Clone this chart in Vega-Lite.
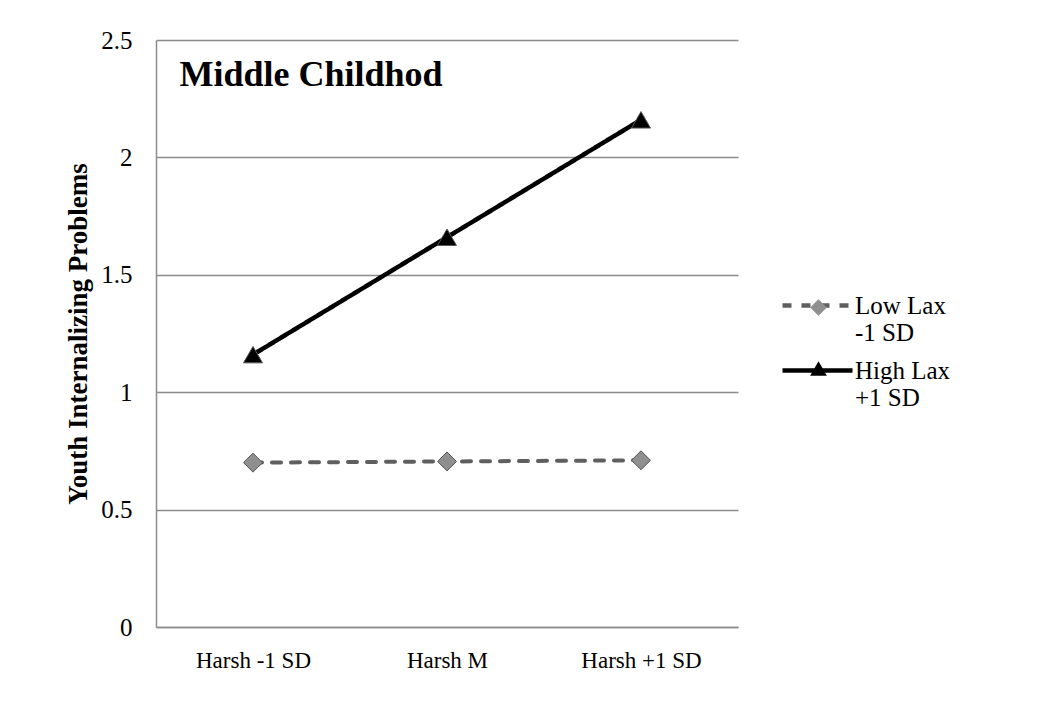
{
  "$schema": "https://vega.github.io/schema/vega-lite/v6.json",
  "autosize": {"type": "none"},
  "width": 582,
  "height": 587,
  "padding": {"left": 156, "top": 40, "right": 312, "bottom": 87},
  "background": "white",
  "config": {
    "view": {"stroke": null},
    "font": "Liberation Serif"
  },
  "data": {
    "values": [
      {"harsh": "Harsh -1 SD", "series": "Low Lax -1 SD", "value": 0.70},
      {"harsh": "Harsh M", "series": "Low Lax -1 SD", "value": 0.705},
      {"harsh": "Harsh +1 SD", "series": "Low Lax -1 SD", "value": 0.71},
      {"harsh": "Harsh -1 SD", "series": "High Lax +1 SD", "value": 1.16},
      {"harsh": "Harsh M", "series": "High Lax +1 SD", "value": 1.66},
      {"harsh": "Harsh +1 SD", "series": "High Lax +1 SD", "value": 2.16}
    ]
  },
  "encoding": {
    "x": {
      "field": "harsh",
      "type": "nominal",
      "sort": ["Harsh -1 SD", "Harsh M", "Harsh +1 SD"],
      "scale": {"type": "point", "padding": 0.5},
      "axis": {
        "title": "Middle Childhod",
        "titleFont": "Liberation Serif",
        "titleFontSize": 36,
        "titleFontWeight": "bold",
        "titleColor": "black",
        "titleAnchor": null,
        "titleAlign": "left",
        "titleBaseline": "alphabetic",
        "titleX": 23,
        "titleY": -542,
        "labelAngle": 0,
        "labelFont": "Liberation Serif",
        "labelFontSize": 23,
        "labelColor": "black",
        "labelPadding": 22,
        "ticks": false,
        "domainColor": "#8c8c8c",
        "domainWidth": 1.5,
        "grid": false
      }
    },
    "y": {
      "field": "value",
      "type": "quantitative",
      "scale": {"domain": [0, 2.5]},
      "axis": {
        "title": "Youth Internalizing Problems",
        "titleFont": "Liberation Serif",
        "titleFontSize": 27,
        "titleFontWeight": "bold",
        "titleColor": "black",
        "titlePadding": 8,
        "values": [0, 0.5, 1, 1.5, 2, 2.5],
        "format": ".1~f",
        "labelFont": "Liberation Serif",
        "labelFontSize": 25,
        "labelColor": "black",
        "labelPadding": 24,
        "ticks": false,
        "domainColor": "#8c8c8c",
        "domainWidth": 1.5,
        "grid": true,
        "gridColor": "#8c8c8c",
        "gridWidth": 1.5
      }
    }
  },
  "layer": [
    {
      "mark": {"type": "line", "strokeCap": "round"},
      "encoding": {
        "color": {
          "field": "series",
          "type": "nominal",
          "scale": {"domain": ["Low Lax -1 SD", "High Lax +1 SD"], "range": ["#5f5f5f", "#000000"]},
          "legend": {
            "title": null,
            "orient": "none",
            "legendX": 624,
            "legendY": 249,
            "padding": 0,
            "symbolType": "M-2.5,0H2.5",
            "symbolSize": 784,
            "symbolOffset": 21,
            "symbolStrokeWidth": 4.5,
            "labelFont": "Liberation Serif",
            "labelFontSize": 25,
            "labelColor": "black",
            "labelOffset": 21,
            "labelLimit": 300,
            "rowPadding": 8,
            "labelExpr": "datum.label == 'Low Lax -1 SD' ? ['Low Lax', '-1 SD'] : ['High Lax', '+1 SD']"
          }
        },
        "strokeDash": {
          "field": "series",
          "type": "nominal",
          "scale": {"domain": ["Low Lax -1 SD", "High Lax +1 SD"], "range": [[9, 10], [1, 0]]},
          "legend": {
            "title": null,
            "orient": "none",
            "legendX": 624,
            "legendY": 249,
            "padding": 0,
            "symbolType": "M-2.5,0H2.5",
            "symbolSize": 784,
            "symbolOffset": 21,
            "symbolStrokeWidth": 4.5,
            "labelFont": "Liberation Serif",
            "labelFontSize": 25,
            "labelColor": "black",
            "labelOffset": 21,
            "labelLimit": 300,
            "rowPadding": 8,
            "labelExpr": "datum.label == 'Low Lax -1 SD' ? ['Low Lax', '-1 SD'] : ['High Lax', '+1 SD']"
          }
        },
        "strokeWidth": {
          "field": "series",
          "type": "nominal",
          "scale": {"domain": ["Low Lax -1 SD", "High Lax +1 SD"], "range": [4, 4.5]},
          "legend": null
        }
      }
    },
    {
      "mark": {"type": "point", "filled": true, "stroke": "#555555", "strokeWidth": 1, "opacity": 1, "size": 360},
      "encoding": {
        "shape": {
          "field": "series",
          "type": "nominal",
          "scale": {"domain": ["Low Lax -1 SD", "High Lax +1 SD"], "range": ["diamond", "triangle-up"]},
          "legend": {
            "title": null,
            "orient": "none",
            "legendX": 624,
            "legendY": 255,
            "padding": 0,
            "symbolSize": 280,
            "symbolOffset": 26,
            "symbolStrokeColor": "#555555",
            "symbolStrokeWidth": 1,
            "symbolOpacity": 1,
            "labelFont": "Liberation Serif",
            "labelFontSize": 25,
            "labelOpacity": 0,
            "labelOffset": 6,
            "labelLimit": 300,
            "rowPadding": 8,
            "labelExpr": "[' ', ' ']"
          }
        },
        "fill": {
          "field": "series",
          "type": "nominal",
          "scale": {"domain": ["Low Lax -1 SD", "High Lax +1 SD"], "range": ["#8f8f8f", "#000000"]},
          "legend": {
            "title": null,
            "orient": "none",
            "legendX": 624,
            "legendY": 255,
            "padding": 0,
            "symbolSize": 280,
            "symbolOffset": 26,
            "symbolStrokeColor": "#555555",
            "symbolStrokeWidth": 1,
            "symbolOpacity": 1,
            "labelFont": "Liberation Serif",
            "labelFontSize": 25,
            "labelOpacity": 0,
            "labelOffset": 6,
            "labelLimit": 300,
            "rowPadding": 8,
            "labelExpr": "[' ', ' ']"
          }
        }
      }
    }
  ],
  "resolve": {"legend": {"color": "independent", "shape": "independent", "fill": "independent", "strokeDash": "independent"}}
}
